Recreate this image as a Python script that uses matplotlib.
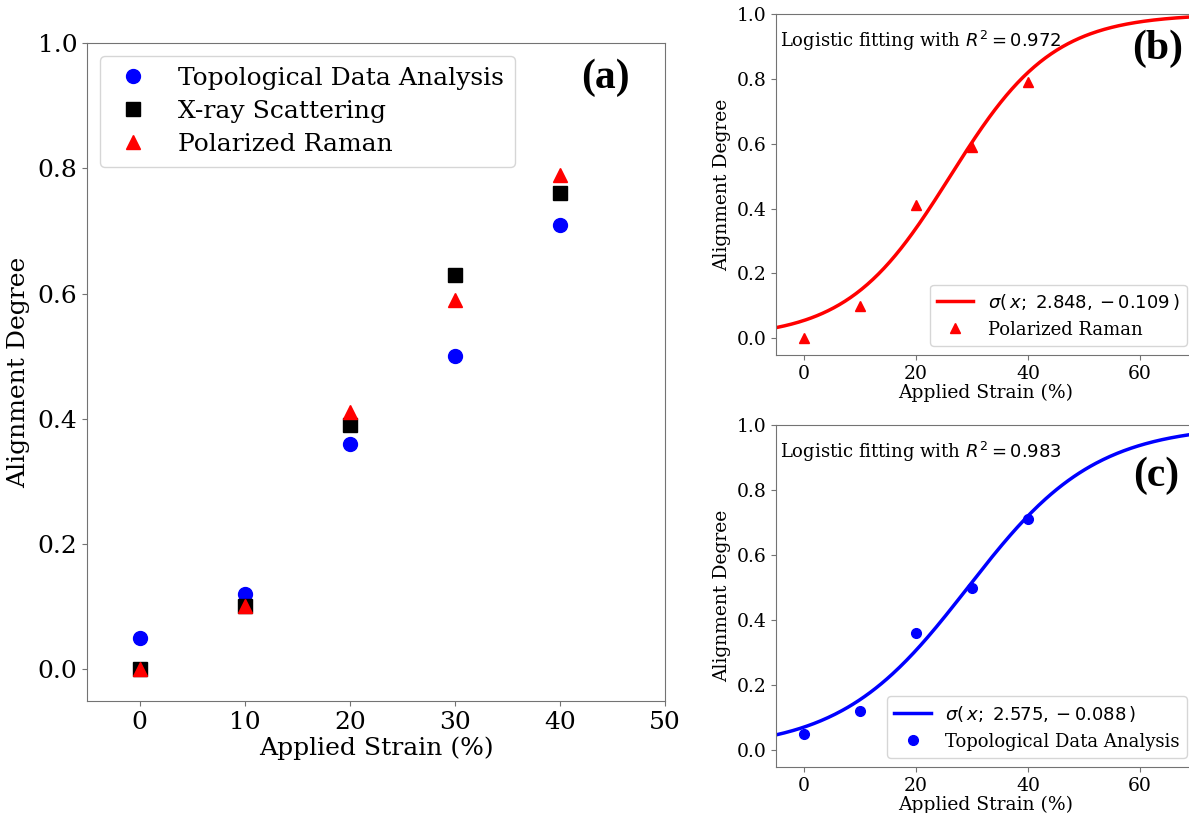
#!/usr/bin/env python3
"""Alignment degree vs applied strain, with logistic fits."""

import matplotlib
matplotlib.use("Agg")
import matplotlib.pyplot as plt
import numpy as np

strain = [0, 10, 20, 30, 40]
tda = [0.05, 0.12, 0.36, 0.50, 0.71]
xray = [0.00, 0.10, 0.39, 0.63, 0.76]
raman = [0.00, 0.10, 0.41, 0.59, 0.79]

# logistic fit parameters shown in the legends
raman_fit = (2.848, -0.109)
tda_fit = (2.575, -0.088)
raman_r2 = 0.972
tda_r2 = 0.983

SERIF = "DejaVu Serif"
BOLD = "Liberation Serif"


def sigma(x, a, b):
    return 1.0 / (1.0 + np.exp(a + b * x))


def style_axes(ax, size):
    for sp in ax.spines.values():
        sp.set_color("0.45")
    ax.tick_params(labelsize=size, length=3.5, color="0.45")
    for lab in ax.get_xticklabels() + ax.get_yticklabels():
        lab.set_family(SERIF)


fig = plt.figure(figsize=(11.89, 8.13), dpi=100)

# (a) all three methods
ax = fig.add_axes([0.0732, 0.1378, 0.486, 0.809])
ax.plot(strain, tda, "o", color="blue", ms=10, label="Topological Data Analysis")
ax.plot(strain, xray, "s", color="black", ms=10, label="X-ray Scattering")
ax.plot(strain, raman, "^", color="red", ms=10, label="Polarized Raman")
ax.set_xlim(-5, 50)
ax.set_ylim(-0.051, 1.0)
ax.set_xticks([0, 10, 20, 30, 40, 50])
ax.set_yticks([0.0, 0.2, 0.4, 0.6, 0.8, 1.0])
ax.set_xlabel("Applied Strain (%)", family=SERIF, fontsize=18, labelpad=2)
ax.set_ylabel("Alignment Degree", family=SERIF, fontsize=18, labelpad=5)
style_axes(ax, 18)
ax.legend(loc="upper left", prop={"family": SERIF, "size": 18},
          handlelength=1.8, handletextpad=0.9, borderpad=0.45, labelspacing=0.4)
ax.text(0.939, 0.947, "(a)", transform=ax.transAxes, ha="right", va="center",
        family=BOLD, weight="bold", fontsize=30)

x_fit = np.linspace(-5, 70, 300)

panels = [
    ([0.6527, 0.5633, 0.353, 0.4195], raman, "^", "red", raman_fit, raman_r2,
     "Polarized Raman", "(b)", 0.897, 0.971),
    ([0.6527, 0.0566, 0.353, 0.4206], tda, "o", "blue", tda_fit, tda_r2,
     "Topological Data Analysis", "(c)", 0.851, 0.96),
]
for rect, vals, marker, color, (a, b), r2, name, tag, ty, tx in panels:
    axp = fig.add_axes(rect)
    axp.plot(x_fit, sigma(x_fit, a, b), color=color, lw=2.5,
             label=rf"$\sigma(\,x;\ {a:.3f}, {b:.3f}\,)$")
    axp.plot(strain, vals, marker, color=color, ms=7, label=name)
    axp.set_xlim(-5, 70)
    axp.set_ylim(-0.052, 1.0)
    axp.set_xticks([0, 20, 40, 60])
    axp.set_yticks([0.0, 0.2, 0.4, 0.6, 0.8, 1.0])
    axp.set_xlabel("Applied Strain (%)", family=SERIF, fontsize=13.5, labelpad=1)
    axp.set_ylabel("Alignment Degree", family=SERIF, fontsize=13.5, labelpad=4)
    style_axes(axp, 13.5)
    axp.legend(loc="lower right", prop={"family": SERIF, "size": 13})
    axp.text(0.01, 0.922, f"Logistic fitting with $R^2 = {r2}$", transform=axp.transAxes,
             ha="left", va="center", family=SERIF, fontsize=13)
    axp.text(tx, ty, tag, transform=axp.transAxes, ha="right", va="center",
             family=BOLD, weight="bold", fontsize=30)

fig.savefig("out.png", dpi=100)
